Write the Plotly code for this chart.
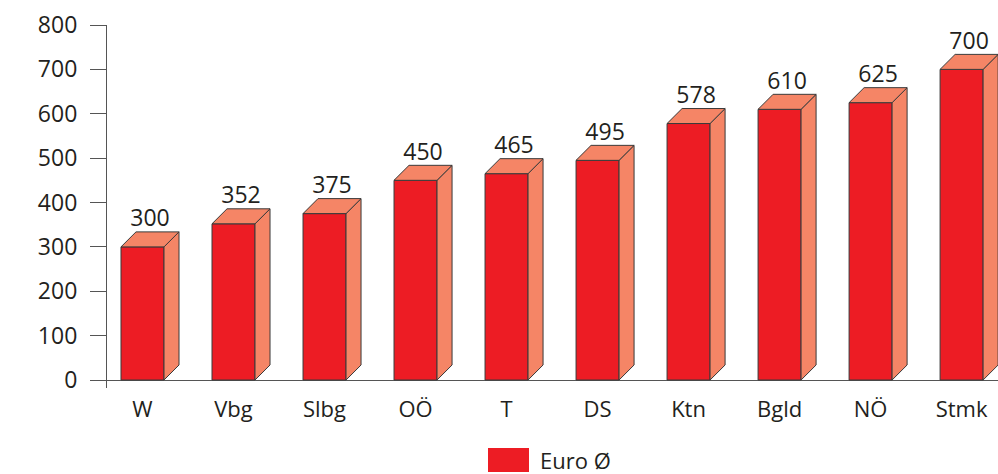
import plotly.graph_objects as go

categories = ["W", "Vbg", "Slbg", "OÖ", "T", "DS", "Ktn", "Bgld", "NÖ", "Stmk"]
values = [300, 352, 375, 450, 465, 495, 578, 610, 625, 700]
series_name = "Euro Ø"
y_ticks = [0, 100, 200, 300, 400, 500, 600, 700, 800]

FRONT = "#ed1c24"
SIDE = "#f58566"
EDGE = "#3a3a3a"
TXT = "#231f20"
FONT = "Open Sans"

pos = list(range(len(categories)))
bw = 0.4725          # bar width in category units
dx = 0.165           # depth offset (x, category units)
dy = 33.8            # depth offset (y, data units)

fig = go.Figure()

fig.add_trace(go.Bar(
    x=pos, y=values, width=bw, name=series_name,
    marker=dict(color=FRONT, line=dict(color=EDGE, width=1)),
    showlegend=False, hoverinfo="skip",
))

sx, sy, tx, ty = [], [], [], []
for i, v in zip(pos, values):
    r = i + bw / 2
    l = i - bw / 2
    sx += [r, r + dx, r + dx, r, r, None]
    sy += [0, dy, v + dy, v, 0, None]
    tx += [l, l + dx, r + dx, r, l, None]
    ty += [v, v + dy, v + dy, v, v, None]

fig.add_trace(go.Scatter(x=sx, y=sy, mode="lines", fill="toself", fillcolor=SIDE,
                         line=dict(color=EDGE, width=1), showlegend=False, hoverinfo="skip"))
fig.add_trace(go.Scatter(x=tx, y=ty, mode="lines", fill="toself", fillcolor=SIDE,
                         line=dict(color=EDGE, width=1), showlegend=False, hoverinfo="skip"))

fig.add_trace(go.Scatter(
    x=[i + dx / 2 for i in pos], y=[v + dy for v in values],
    mode="text", text=[str(v) for v in values], textposition="top center",
    textfont=dict(family=FONT, size=23, color=TXT), showlegend=False, hoverinfo="skip",
    cliponaxis=False,
))

PH = 363  # plot height in px
fig.update_layout(
    width=998, height=474,
    margin=dict(l=107, r=0, t=25, b=86),
    paper_bgcolor="white", plot_bgcolor="white",
    font=dict(family=FONT, size=22, color=TXT),
    xaxis=dict(
        range=[-0.39, 9.40], tickvals=pos, ticktext=categories,
        showgrid=False, zeroline=False, showline=False, ticks="",
        ticklabelstandoff=6,
    ),
    yaxis=dict(
        range=[-18, 800], tickvals=y_ticks, showgrid=False,
        zeroline=True, zerolinecolor="#555", zerolinewidth=1.2,
        showline=True, linecolor="#555", linewidth=1.2,
        ticks="outside", ticklen=16, tickcolor="#555", tickwidth=1.2,
        ticklabelstandoff=8, tickfont=dict(size=23),
    ),
    showlegend=False,
    shapes=[dict(type="rect", xref="paper", yref="paper",
                 x0=(488 - 107) / 891, x1=(529 - 107) / 891,
                 y0=(388 - 472) / PH, y1=(388 - 448) / PH,
                 fillcolor=FRONT, line=dict(width=0))],
    annotations=[dict(text=series_name, xref="paper", yref="paper",
                      x=(538 - 107) / 891, y=(388 - 460) / PH,
                      xanchor="left", yanchor="middle", showarrow=False,
                      font=dict(family=FONT, size=22, color=TXT))],
)

fig.write_html("out.html", config={"displayModeBar": False},
               post_script="document.body.style.margin='0';document.body.style.padding='0';")
